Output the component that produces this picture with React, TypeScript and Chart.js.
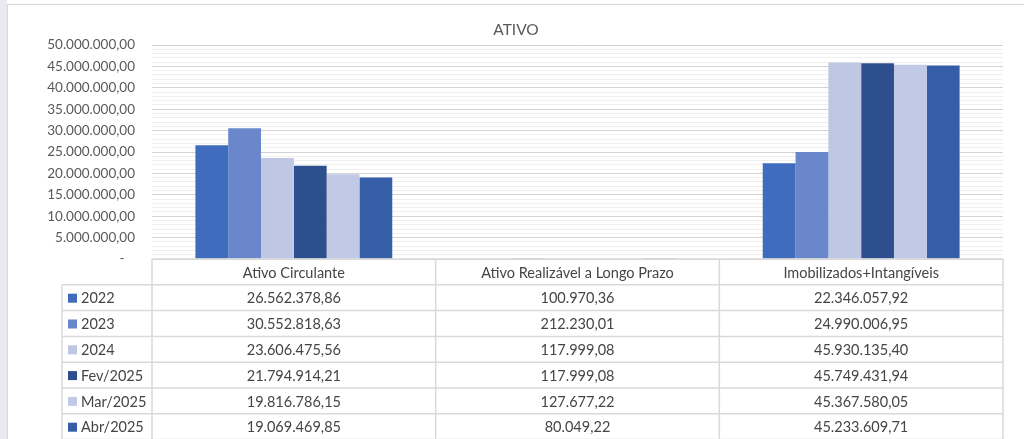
import React, { useEffect, useRef } from 'react';
import { Chart, registerables } from 'chart.js';

Chart.register(...registerables);

const categories = ['Ativo Circulante', 'Ativo Realizável a Longo Prazo', 'Imobilizados+Intangíveis'];
const seriesLabels = ['2022', '2023', '2024', 'Fev/2025', 'Mar/2025', 'Abr/2025'];
const s2022 = [26562378.86, 100970.36, 22346057.92];
const s2023 = [30552818.63, 212230.01, 24990006.95];
const s2024 = [23606475.56, 117999.08, 45930135.4];
const sFev2025 = [21794914.21, 117999.08, 45749431.94];
const sMar2025 = [19816786.15, 127677.22, 45367580.05];
const sAbr2025 = [19069469.85, 80049.22, 45233609.71];
const seriesValues = [s2022, s2023, s2024, sFev2025, sMar2025, sAbr2025];
const seriesColors = ['#3F6CBC', '#6B87CB', '#BEC8E4', '#2D4F8E', '#C0C9E5', '#365DA8'];
const chartTitle = 'ATIVO';
const yMin = 0;
const yMax = 50000000;
const majorStep = 5000000;
const minorStep = 1000000;

const FONT = 'Lato, "Open Sans", sans-serif';

function fmtBR(v: number): string {
  const neg = v < 0;
  const fixed = Math.abs(v).toFixed(2);
  const [i, d] = fixed.split('.');
  const int = i.replace(/\B(?=(\d{3})+(?!\d))/g, '.');
  return (neg ? '-' : '') + int + ',' + d;
}

const titlePlugin = {
  id: 'customTitle',
  afterDraw(chart: any) {
    const { ctx, width } = chart;
    ctx.save();
    ctx.fillStyle = '#595959';
    ctx.font = `15.5px ${FONT}`;
    ctx.textAlign = 'center';
    ctx.textBaseline = 'middle';
    ctx.fillText(chartTitle, width / 2, 25);
    ctx.restore();
  },
};

const tablePlugin = {
  id: 'dataTable',
  afterDraw(chart: any) {
    const { ctx, chartArea: ca } = chart;
    const x = chart.scales.x;
    const rowH = 25.8;
    const legendLeft = 54;
    const top = ca.bottom;
    const nRows = seriesLabels.length;
    const bottom = top + (nRows + 1) * rowH;
    const line = (x1: number, y1: number, x2: number, y2: number) => {
      ctx.beginPath();
      ctx.moveTo(x1, y1);
      ctx.lineTo(x2, y2);
      ctx.stroke();
    };
    ctx.save();
    ctx.strokeStyle = '#d9d9d9';
    ctx.lineWidth = 1.5;
    line(ca.left, top, ca.right, top);
    for (let r = 1; r <= nRows + 1; r++) {
      const y = top + r * rowH;
      line(legendLeft, y, ca.right, y);
    }
    line(legendLeft, top + rowH, legendLeft, bottom);
    const n = categories.length;
    for (let i = 0; i <= n; i++) {
      let xb: number;
      if (i === 0) xb = ca.left;
      else if (i === n) xb = ca.right;
      else xb = (x.getPixelForValue(i - 1) + x.getPixelForValue(i)) / 2;
      line(xb, top, xb, bottom);
    }
    ctx.font = `14.5px ${FONT}`;
    ctx.textBaseline = 'middle';
    ctx.fillStyle = '#454545';
    ctx.textAlign = 'center';
    categories.forEach((c, i) => {
      ctx.fillText(c, x.getPixelForValue(i), top + rowH / 2 + 1);
    });
    seriesLabels.forEach((lab, r) => {
      const yc = top + (r + 1) * rowH + rowH / 2 + 1;
      ctx.fillStyle = seriesColors[r];
      ctx.fillRect(legendLeft + 6, yc - 5, 9, 9);
      ctx.fillStyle = '#454545';
      ctx.textAlign = 'left';
      ctx.fillText(lab, legendLeft + 19, yc);
      ctx.textAlign = 'center';
      seriesValues[r].forEach((v, i) => {
        ctx.fillText(fmtBR(v), x.getPixelForValue(i), yc);
      });
    });
    ctx.restore();
  },
};

export default function App() {
  const ref = useRef<HTMLCanvasElement | null>(null);
  useEffect(() => {
    document.body.style.margin = '0';
    document.body.style.background = '#ffffff';
    const canvas = ref.current;
    if (!canvas) return;
    const chart = new Chart(canvas, {
      type: 'bar',
      data: {
        labels: categories,
        datasets: seriesLabels.map((lab, i) => ({
          label: lab,
          data: seriesValues[i],
          backgroundColor: seriesColors[i],
          borderWidth: 0,
          categoryPercentage: 0.694,
          barPercentage: 1,
        })),
      },
      options: {
        animation: false,
        responsive: false,
        devicePixelRatio: 1,
        layout: { padding: { top: 40, bottom: 180, left: 0, right: 21 } },
        plugins: {
          legend: { display: false },
          title: { display: false },
          tooltip: { enabled: false },
        },
        scales: {
          x: { display: false },
          y: {
            min: yMin,
            max: yMax,
            afterFit(scale: any) {
              scale.width = 144;
            },
            border: { display: false },
            grid: {
              drawTicks: false,
              color: (c: any) => (c.tick && c.tick.value % majorStep === 0 ? '#d2d2d2' : '#efefef'),
              lineWidth: 1,
            },
            ticks: {
              stepSize: minorStep,
              autoSkip: false,
              padding: 17,
              color: '#595959',
              font: { family: FONT, size: 13.5 },
              callback: (v: any) => {
                const n = Number(v);
                if (n === 0) return '-\u00a0\u00a0\u00a0';
                if (n % majorStep !== 0) return '';
                return fmtBR(n);
              },
            },
          },
        },
      },
      plugins: [titlePlugin, tablePlugin],
    });
    return () => chart.destroy();
  }, []);
  return (
    <div style={{ position: 'relative', width: 1024, height: 439, overflow: 'hidden' }}>
      <div style={{ position: 'absolute', left: 0, top: 0, width: 7, height: 439, background: '#e9e9f2' }} />
      <div
        style={{
          position: 'absolute',
          left: 7,
          top: 4,
          width: 1017,
          height: 435,
          borderLeft: '1px solid #d9d9d9',
          borderTop: '1px solid #d9d9d9',
          background: '#ffffff',
        }}
      >
        <canvas ref={ref} width={1016} height={434} style={{ display: 'block', width: 1016, height: 434 }} />
      </div>
    </div>
  );
}
